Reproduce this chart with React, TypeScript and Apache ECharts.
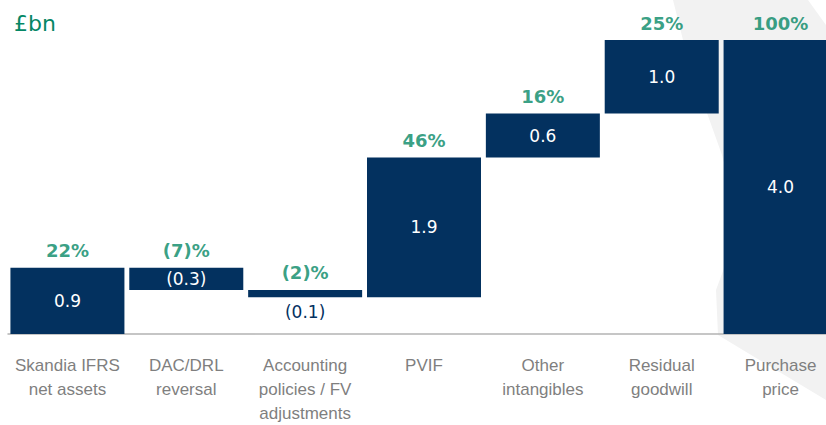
import React, { useEffect, useRef } from "react";
import * as echarts from "echarts";

const categories = [
  "Skandia IFRS\nnet assets",
  "DAC/DRL\nreversal",
  "Accounting\npolicies / FV\nadjustments",
  "PVIF",
  "Other\nintangibles",
  "Residual\ngoodwill",
  "Purchase\nprice",
];
const deltas = [0.9, -0.3, -0.1, 1.9, 0.6, 1.0, 4.0];
const isTotal = [false, false, false, false, false, false, true];
const valueLabels = ["0.9", "(0.3)", "(0.1)", "1.9", "0.6", "1.0", "4.0"];
const pctLabels = ["22%", "(7)%", "(2)%", "46%", "16%", "25%", "100%"];
const labelBelow = [false, false, true, false, false, false, false];

const NAVY = "#03315f";
const GREEN = "#058765";
const GREY = "#7f7f7f";

export default function App() {
  const ref = useRef<HTMLDivElement>(null);
  useEffect(() => {
    if (!ref.current) return;
    const chart = echarts.init(ref.current, undefined, { renderer: "svg" });
    const bases: number[] = [];
    const heights: number[] = [];
    let running = 0;
    deltas.forEach((d, i) => {
      if (isTotal[i]) {
        bases.push(0);
        heights.push(d);
      } else if (d >= 0) {
        bases.push(running);
        heights.push(d);
        running += d;
      } else {
        running += d;
        bases.push(running);
        heights.push(-d);
      }
    });
    const tops = bases.map((b, i) => +(b + heights[i]).toFixed(4));
    chart.setOption({
      animation: false,
      graphic: [
        {
          type: "polygon",
          silent: true,
          z: -10,
          shape: {
            points: [
              [673, 0],
              [808, 0],
              [826, 25],
              [826, 400],
              [718, 335],
              [716, 290],
              [740, 225],
              [722, 155],
              [688, 60],
            ],
          },
          style: { fill: "#f2f2f2" },
        },
        {
          type: "text",
          left: 14,
          top: 12,
          style: {
            text: "£bn",
            fill: GREEN,
            font: "22px 'DejaVu Sans', sans-serif",
          },
        },
      ],
      grid: { left: 8, width: 832, top: 40, bottom: 90, containLabel: false },
      xAxis: {
        type: "category",
        data: categories,
        axisTick: { show: false },
        axisLine: { lineStyle: { color: "#b3b3b3", width: 1.5 } },
        axisLabel: {
          color: GREY,
          fontFamily: "'Liberation Sans', sans-serif",
          fontSize: 17,
          lineHeight: 24,
          margin: 19,
          interval: 0,
        },
      },
      yAxis: {
        type: "value",
        min: 0,
        max: 4,
        show: false,
        splitLine: { show: false },
      },
      series: [
        {
          type: "bar",
          stack: "wf",
          barWidth: 114,
          itemStyle: { color: "transparent" },
          data: bases,
          silent: true,
        },
        {
          type: "bar",
          stack: "wf",
          barWidth: 114,
          itemStyle: { color: NAVY },
          label: {
            show: true,
            position: "inside",
            color: "#ffffff",
            fontFamily: "'DejaVu Sans', sans-serif",
            fontSize: 17,
            formatter: (p: any) => valueLabels[p.dataIndex],
          },
          data: heights.map((h, i) =>
            labelBelow[i]
              ? {
                  value: h,
                  label: { position: "bottom", color: NAVY, distance: 6 },
                }
              : h
          ),
        },
        {
          type: "scatter",
          symbolSize: 0,
          silent: true,
          label: {
            show: true,
            position: "top",
            distance: 7,
            color: GREEN,
            fontFamily: "'DejaVu Sans', sans-serif",
            fontWeight: "bold",
            fontSize: 18,
            lineHeight: 20,
            formatter: (p: any) => pctLabels[p.dataIndex],
          },
          data: tops.map((t, i) => [i, t]),
        },
      ],
    });
    return () => chart.dispose();
  }, []);
  return (
    <div
      style={{
        position: "fixed",
        left: 0,
        top: 0,
        width: 826,
        height: 425,
        overflow: "hidden",
        background: "#ffffff",
      }}
    >
      <div ref={ref} style={{ width: 842, height: 425 }} />
    </div>
  );
}
